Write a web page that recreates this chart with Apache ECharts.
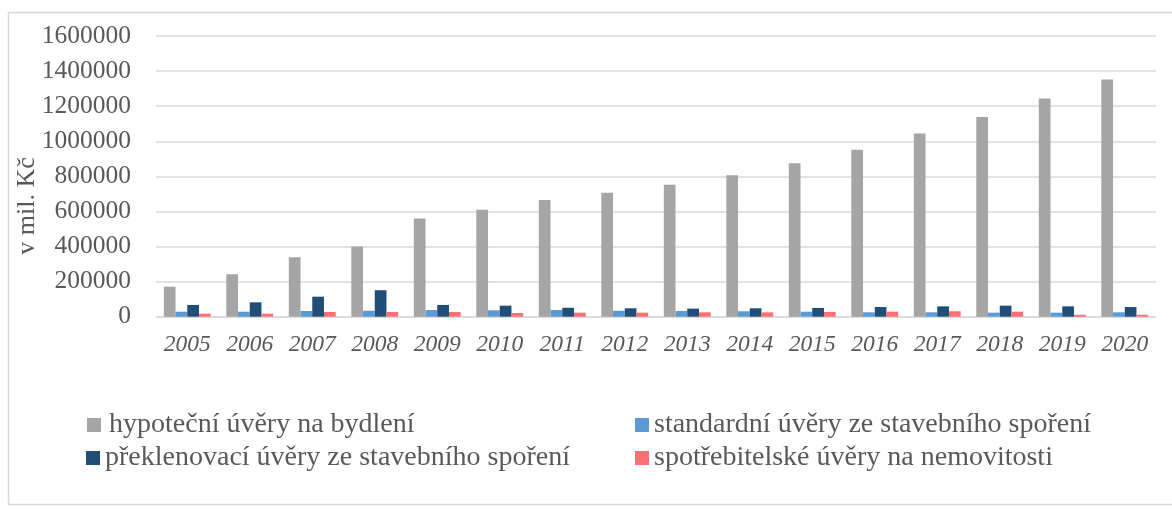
<!DOCTYPE html>
<html>
<head>
<meta charset="utf-8">
<script src="https://cdn.jsdelivr.net/npm/echarts@6/dist/echarts.min.js"></script>
<style>
  html, body { margin: 0; padding: 0; background: #ffffff; }
  #chart { width: 1172px; height: 509px; }
</style>
</head>
<body>
<div id="chart"></div>
<script>
const years = ['2005','2006','2007','2008','2009','2010','2011','2012','2013','2014','2015','2016','2017','2018','2019','2020'];
const seriesNames = [
  'hypoteční úvěry na bydlení',
  'standardní úvěry ze stavebního spoření',
  'překlenovací úvěry ze stavebního spoření',
  'spotřebitelské úvěry na nemovitosti'
];
const hypotecni = [171000, 242000, 339000, 400000, 560000, 610000, 665000, 707000, 752000, 806000, 874000, 951000, 1044000, 1139000, 1244000, 1352000];
const standardni = [28500, 28500, 32500, 34000, 38000, 36500, 38000, 34000, 32500, 31000, 28500, 25000, 25000, 23000, 23000, 25000];
const preklenovaci = [67000, 82000, 114000, 151000, 67000, 63000, 51000, 48000, 46000, 48000, 50000, 55000, 59000, 63000, 59000, 55000];
const spotrebitelske = [17000, 17000, 27000, 27000, 27000, 21000, 23000, 23000, 25000, 25000, 27000, 28500, 31000, 28500, 11000, 11000];
const yAxisName = 'v mil. Kč';

const colors = ['#a5a5a5', '#5b9bd5', '#1f4e79', '#ff6f73'];
const font = 'Liberation Serif';
const txt = '#595959';

const chart = echarts.init(document.getElementById('chart'));

function mkLegend(name, left, top, padLeft) {
  return {
    data: [name], left: left, top: top, icon: 'rect',
    itemWidth: 14, itemHeight: 14, selectedMode: false, padding: 0,
    textStyle: { fontFamily: font, fontSize: 28, lineHeight: 30, color: txt, padding: [0, 0, 0, padLeft] }
  };
}

chart.setOption({
  animation: false,
  color: colors,
  grid: { left: 156, right: 16, top: 36, bottom: 192.3, containLabel: false },
  xAxis: {
    type: 'category', data: years,
    axisLine: { show: true, lineStyle: { color: '#d9d9d9', width: 1.5 } },
    axisTick: { show: false },
    axisLabel: { fontFamily: font, fontSize: 23.5, fontStyle: 'italic', color: txt, margin: 17 }
  },
  yAxis: {
    type: 'value', min: 0, max: 1600000, interval: 200000,
    axisLine: { show: false }, axisTick: { show: false },
    splitLine: { lineStyle: { color: '#d9d9d9', width: 1.5 } },
    axisLabel: { fontFamily: font, fontSize: 25.5, color: txt, margin: 25, formatter: v => String(v) }
  },
  legend: [
    mkLegend(seriesNames[0], 87, 410, 3),
    mkLegend(seriesNames[1], 635, 410, 0),
    mkLegend(seriesNames[2], 86, 443, 0),
    mkLegend(seriesNames[3], 635, 443, 0)
  ],
  graphic: [
    { type: 'rect', shape: { x: 8.5, y: 12.5, width: 1200, height: 492 },
      style: { fill: 'none', stroke: '#d9d9d9', lineWidth: 1.5 }, silent: true },
    { type: 'text', x: 27, y: 206, rotation: Math.PI / 2,
      style: { text: yAxisName, font: '26px "Liberation Serif"', fill: txt, textAlign: 'center', textVerticalAlign: 'middle' } }
  ],
  series: [
    { name: seriesNames[0], type: 'bar', data: hypotecni, barGap: '0%', barCategoryGap: '25%' },
    { name: seriesNames[1], type: 'bar', data: standardni },
    { name: seriesNames[2], type: 'bar', data: preklenovaci },
    { name: seriesNames[3], type: 'bar', data: spotrebitelske }
  ]
});
</script>
</body>
</html>
